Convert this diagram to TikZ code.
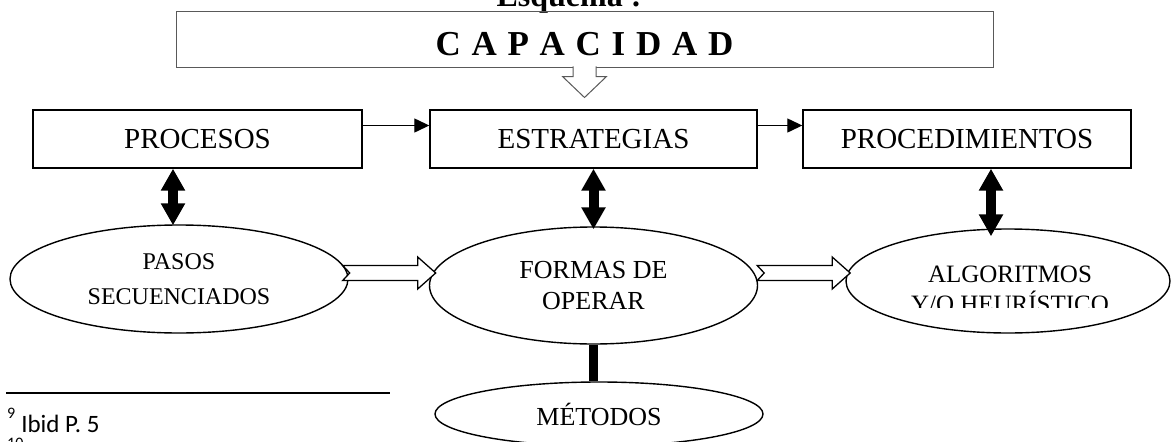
\documentclass[tikz,border=0pt]{standalone}
\usepackage{fontspec}
\setmainfont{Liberation Serif}
\newfontfamily\carlito{Carlito}
\usetikzlibrary{shapes.geometric,arrows.meta}
\tikzset{
  hollowarrow/.pic={\filldraw[line width=1.3pt, fill=white] (0,-7.5) -- (75,-7.5) -- (75,-16) -- (93,0) -- (75,16) -- (75,7.5) -- (0,7.5) -- (7,0) -- cycle;},
  downarrow/.pic={\filldraw[draw=black!65, line width=1pt, fill=white] (-11.5,-1.2) -- (-11.5,9) -- (-22,9) -- (0,30) -- (22,9) -- (11.5,9) -- (11.5,-1.2);}
}
\begin{document}
\begin{tikzpicture}[x=1pt,y=-1pt,
  box/.style={draw, line width=1.4pt, rectangle, minimum width=329pt, minimum height=58pt, inner sep=0pt, font=\fontsize{29}{35}\selectfont},
  ellip/.style={draw, line width=1.4pt, ellipse, inner sep=0pt, align=center},
  thinarr/.style={line width=1.3pt, -{Triangle[length=15pt,width=14pt]}},
  dblarr/.style={line width=10pt, {Triangle[length=22pt,width=23pt]}-{Triangle[length=22pt,width=23pt]}},
  bar/.style={line width=9pt},
]
\useasboundingbox (0,0) rectangle (1176,442);
\fill[white] (0,0) rectangle (1176,442);

% title (cut at the top)
\node[anchor=base, inner sep=0pt, font=\bfseries\fontsize{32}{36}\selectfont] (esq) at (569,6) {Esquema :};

% capacidad box
\node[draw=black!65, line width=1pt, minimum width=817pt, minimum height=56pt, inner sep=0pt,
      text height=32pt, text depth=0pt, font=\bfseries\fontsize{35}{40}\selectfont] (cap) at (584.5,39)
      {\makebox[298pt][s]{C A P A C I D A D}};
\pic at (cap.south) {downarrow};

% boxes
\node[box] (procesos) at (197.5,139) {PROCESOS};
\node[box, minimum width=327pt] (estrat) at (593.5,139) {ESTRATEGIAS};
\node[box, minimum width=328pt] (proced) at (967,139) {PROCEDIMIENTOS};

% ellipses
\node[ellip, minimum width=338pt, minimum height=108pt, font=\fontsize{24}{35}\selectfont] (pasos) at (179,279) {PASOS\\SECUENCIADOS};
\node[ellip, minimum width=328pt, minimum height=117pt, font=\fontsize{26}{31}\selectfont] (formas) at (593.5,285.5) {FORMAS DE\\OPERAR};
\node[ellip, minimum width=324pt, minimum height=104pt] (alg) at (1008,281) {};
\begin{scope}
  \clip (846,230) rectangle (1170,307);
  \node[align=center, inner sep=0pt, font=\fontsize{25}{30}\selectfont] (algtxt) at (1010,289) {ALGORITMOS\\Y/O HEURÍSTICO};
\end{scope}
\node[ellip, minimum width=328pt, minimum height=64pt, font=\fontsize{26}{31}\selectfont] (metodos) at (599,414) {MÉTODOS};

% connectors
\draw[thinarr] ([yshift=13.5pt]procesos.east) -- ([yshift=13.5pt]estrat.west);
\draw[thinarr] ([yshift=13.5pt]estrat.east) -- ([yshift=13.5pt]proced.west);

\draw[dblarr] ([xshift=-24.5pt]procesos.south) -- ([xshift=-6pt,yshift=-1pt]pasos.north);
\draw[dblarr] (estrat.south) -- ([yshift=-3pt]formas.north);
\draw[dblarr] ([xshift=24pt]proced.south) -- ([xshift=-17pt,yshift=-8pt]alg.north);

\draw[bar] (formas.south) -- (formas.south |- metodos.north);

\pic at ([xshift=-6pt,yshift=6pt]pasos.east) {hollowarrow};
\pic at ([xshift=-1pt,yshift=12.5pt]formas.east) {hollowarrow};

% footnote
\draw[line width=1.8pt] (6,393) -- (390,393);
\node[anchor=base west, inner sep=0pt, font=\carlito\fontsize{25}{30}\selectfont] (fn9) at (7,432)
  {\raisebox{14pt}{\fontsize{16}{16}\selectfont 9}\hspace{6pt}Ibid P. 5};
\node[anchor=base west, inner sep=0pt, font=\carlito\fontsize{16}{16}\selectfont] (fn10) at (7,448) {10};
\end{tikzpicture}
\end{document}
